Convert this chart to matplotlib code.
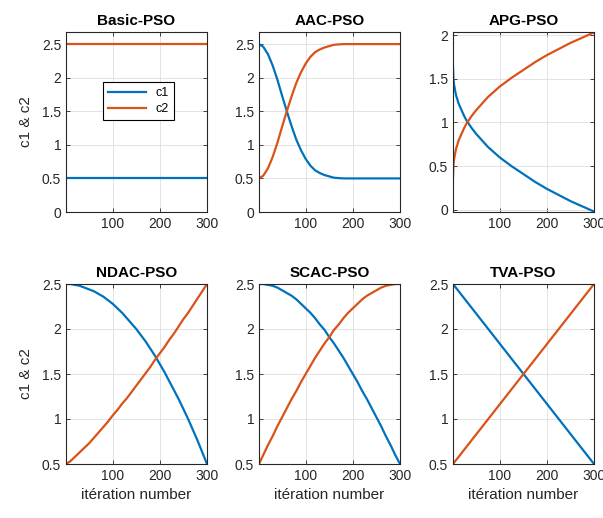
import matplotlib
matplotlib.use('Agg')
import matplotlib.pyplot as plt

it_13 = [1, 25, 50, 75, 100, 125, 150, 175, 200, 225, 250, 275, 300]
it_31 = [1] + list(range(10, 301, 10))
it_aac = [1, 10, 20, 30, 40, 50, 60, 70, 80, 90, 100, 110, 120, 130, 140, 150,
          160, 180, 200, 250, 300]
it_apg = [1, 2, 3, 4, 6, 8, 10, 12, 15, 20, 25, 30, 40, 50, 60, 75, 100, 125,
          150, 175, 200, 225, 250, 275, 300]

basic_c1 = [0.5] * len(it_13)
basic_c2 = [2.5] * len(it_13)

aac_c1 = [2.50, 2.46, 2.35, 2.18, 1.97, 1.73, 1.50, 1.28, 1.08, 0.92, 0.79,
          0.69, 0.62, 0.58, 0.55, 0.53, 0.51, 0.50, 0.50, 0.50, 0.50]
aac_c2 = [0.50, 0.54, 0.65, 0.82, 1.03, 1.27, 1.50, 1.72, 1.92, 2.08, 2.21,
          2.31, 2.38, 2.42, 2.45, 2.47, 2.49, 2.50, 2.50, 2.50, 2.50]

apg_c1 = [1.64, 1.49, 1.44, 1.41, 1.35, 1.30, 1.27, 1.23, 1.19, 1.13, 1.07,
          1.02, 0.94, 0.87, 0.81, 0.72, 0.60, 0.50, 0.41, 0.32, 0.24, 0.17,
          0.10, 0.04, -0.02]
apg_c2 = [0.37, 0.52, 0.57, 0.60, 0.66, 0.71, 0.74, 0.78, 0.82, 0.88, 0.94,
          0.99, 1.07, 1.14, 1.20, 1.29, 1.41, 1.51, 1.60, 1.69, 1.77, 1.84,
          1.91, 1.97, 2.03]

ndac_c1 = [2.50, 2.50, 2.49, 2.48, 2.46, 2.44, 2.42, 2.39, 2.36, 2.32, 2.28,
           2.23, 2.18, 2.12, 2.06, 2.00, 1.93, 1.86, 1.78, 1.70, 1.61, 1.52,
           1.42, 1.32, 1.22, 1.11, 1.00, 0.88, 0.76, 0.63, 0.50]
ndac_c2 = [0.50, 0.53, 0.58, 0.63, 0.68, 0.73, 0.79, 0.85, 0.91, 0.97, 1.04,
           1.10, 1.17, 1.23, 1.30, 1.37, 1.44, 1.51, 1.58, 1.66, 1.73, 1.80,
           1.88, 1.95, 2.03, 2.11, 2.18, 2.26, 2.34, 2.42, 2.50]

scac_c1 = [2.50, 2.50, 2.49, 2.48, 2.46, 2.43, 2.40, 2.37, 2.33, 2.28, 2.23,
           2.18, 2.12, 2.05, 1.99, 1.91, 1.84, 1.76, 1.68, 1.59, 1.50, 1.41,
           1.31, 1.22, 1.12, 1.02, 0.92, 0.81, 0.71, 0.60, 0.50]
scac_c2 = [0.50, 0.60, 0.71, 0.81, 0.92, 1.02, 1.12, 1.22, 1.31, 1.41, 1.50,
           1.59, 1.68, 1.76, 1.84, 1.91, 1.99, 2.05, 2.12, 2.18, 2.23, 2.28,
           2.33, 2.37, 2.40, 2.43, 2.46, 2.48, 2.49, 2.50, 2.50]

tva_it = [1, 300]
tva_c1 = [2.5, 0.5]
tva_c2 = [0.5, 2.5]

panels = [
    ('Basic-PSO', it_13, basic_c1, basic_c2, (0, 2.68), [0, 0.5, 1, 1.5, 2, 2.5]),
    ('AAC-PSO', it_aac, aac_c1, aac_c2, (0, 2.68), [0, 0.5, 1, 1.5, 2, 2.5]),
    ('APG-PSO', it_apg, apg_c1, apg_c2, (-0.025, 2.035), [0, 0.5, 1, 1.5, 2]),
    ('NDAC-PSO', it_31, ndac_c1, ndac_c2, (0.5, 2.5), [0.5, 1, 1.5, 2, 2.5]),
    ('SCAC-PSO', it_31, scac_c1, scac_c2, (0.5, 2.5), [0.5, 1, 1.5, 2, 2.5]),
    ('TVA-PSO', tva_it, tva_c1, tva_c2, (0.5, 2.5), [0.5, 1, 1.5, 2, 2.5]),
]

blue = '#0072BD'
orange = '#D95319'
dark = '#262626'

plt.rcParams['font.family'] = ['Liberation Sans', 'DejaVu Sans']

fig = plt.figure(figsize=(6.03, 5.18), dpi=100)
W, H = 603, 518
lefts = [66, 259, 453]
tops = [32, 284]
aw, ah = 141, 180

for k, (title, it, c1, c2, ylim, yticks) in enumerate(panels):
    row, col = divmod(k, 3)
    ax = fig.add_axes([lefts[col] / W, 1 - (tops[row] + ah) / H, aw / W, ah / H])
    ax.plot(it, c1, color=blue, linewidth=1.6, label='c1')
    ax.plot(it, c2, color=orange, linewidth=1.6, label='c2')
    ax.set_xlim(1, 300)
    ax.set_ylim(*ylim)
    ax.set_xticks([100, 200, 300])
    ax.set_yticks(yticks)
    ax.set_yticklabels([f'{v:g}' for v in yticks])
    ax.grid(True, color='#dedede', linewidth=0.6)
    ax.set_axisbelow(True)
    ax.tick_params(direction='in', length=3, width=0.6, labelsize=10,
                   colors=dark, top=True, right=True)
    for s in ax.spines.values():
        s.set_color(dark)
        s.set_linewidth(0.8)
    ax.set_title(title, fontsize=11, fontweight='bold', pad=5)
    if col == 0:
        ax.set_ylabel('c1 & c2', fontsize=11, color=dark, labelpad=6)
    if row == 1:
        ax.set_xlabel('itération number', fontsize=11, color=dark)
    if k == 0:
        leg = ax.legend(loc='center', bbox_to_anchor=(0.515, 0.615), fontsize=9,
                        fancybox=False, edgecolor='black', framealpha=1,
                        handlelength=3.0, borderpad=0.4, labelspacing=0.3)
        leg.get_frame().set_linewidth(0.8)

fig.savefig('out.png', dpi=100)
